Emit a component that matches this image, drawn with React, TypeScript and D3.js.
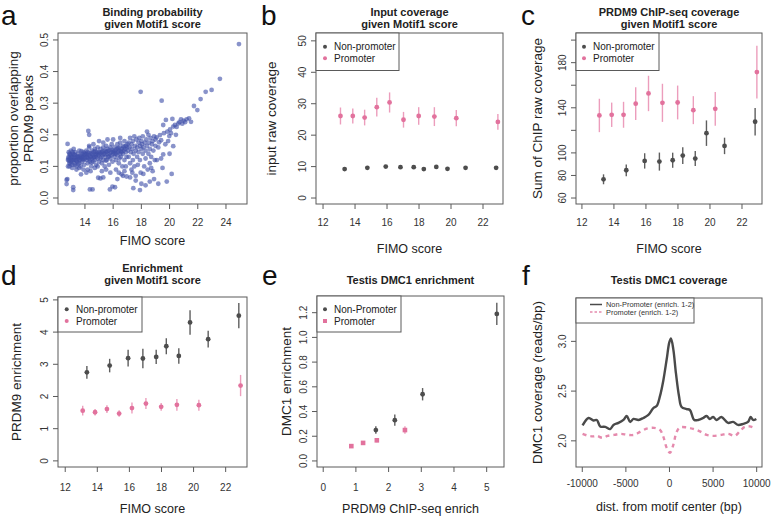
import React from "react";
import * as d3 from "d3";

// ---------- Panel a: binding probability scatter ----------
const bindingPoints: [number, number][] = [
  [12.8,0.12],[12.85,0.13],[12.9,0.11],[12.9,0.14],[12.95,0.125],[13.0,0.115],[13.0,0.135],[13.05,0.12],[13.1,0.13],[13.1,0.105],
  [13.15,0.14],[13.2,0.12],[13.2,0.125],[13.25,0.11],[13.3,0.135],[13.3,0.145],[13.35,0.12],[13.4,0.13],[13.4,0.1],[13.45,0.115],
  [13.5,0.14],[13.5,0.125],[13.55,0.13],[13.6,0.11],[13.6,0.15],[13.65,0.12],[13.7,0.135],[13.7,0.1],[13.75,0.125],[13.8,0.14],
  [13.8,0.115],[13.85,0.13],[13.9,0.145],[13.9,0.12],[13.95,0.105],[14.0,0.135],[14.0,0.125],
  [12.8,0.1],[12.85,0.145],[13.0,0.15],[13.1,0.095],[13.2,0.155],[13.4,0.09],[13.6,0.095],[13.9,0.09],[12.9,0.1],[13.3,0.105],
  [12.82,0.125],[12.88,0.118],[12.95,0.138],[13.02,0.128],[13.12,0.118],[13.22,0.138],[13.28,0.128],[13.38,0.118],[13.48,0.132],[13.58,0.122],
  [13.68,0.128],[13.78,0.132],[13.88,0.125],[13.98,0.14],[13.12,0.145],[13.52,0.108],[13.75,0.148],[12.98,0.108],
  [14.05,0.14],[14.1,0.12],[14.1,0.15],[14.15,0.13],[14.2,0.11],[14.2,0.145],[14.25,0.125],[14.3,0.135],[14.3,0.16],[14.35,0.115],
  [14.4,0.14],[14.4,0.13],[14.45,0.1],[14.5,0.15],[14.5,0.125],[14.55,0.135],[14.6,0.115],[14.6,0.145],[14.65,0.13],[14.7,0.155],
  [14.7,0.12],[14.75,0.14],[14.8,0.105],[14.8,0.13],[14.85,0.145],[14.9,0.125],[14.9,0.16],[14.95,0.135],[15.0,0.115],[15.0,0.145],
  [14.2,0.09],[14.4,0.085],[14.7,0.095],[14.9,0.1],[14.3,0.165],[14.6,0.17],
  [14.12,0.138],[14.28,0.142],[14.38,0.122],[14.52,0.14],[14.62,0.128],[14.78,0.135],[14.88,0.14],[14.18,0.128],[14.48,0.112],[14.72,0.148],
  [15.05,0.14],[15.1,0.125],[15.1,0.155],[15.15,0.13],[15.2,0.11],[15.2,0.145],[15.25,0.135],[15.3,0.16],[15.3,0.12],[15.35,0.14],
  [15.4,0.15],[15.4,0.1],[15.45,0.13],[15.5,0.145],[15.5,0.165],[15.55,0.12],[15.6,0.14],[15.6,0.155],[15.65,0.13],[15.7,0.105],
  [15.7,0.15],[15.75,0.14],[15.8,0.16],[15.8,0.125],[15.85,0.145],[15.9,0.135],[15.9,0.17],[15.95,0.115],[16.0,0.15],[16.0,0.14],
  [15.2,0.085],[15.5,0.09],[15.8,0.08],[15.3,0.175],[15.6,0.185],[15.0,0.18],
  [15.12,0.142],[15.28,0.148],[15.42,0.138],[15.58,0.148],[15.72,0.132],[15.88,0.152],[15.48,0.118],
  [16.05,0.145],[16.1,0.13],[16.1,0.16],[16.15,0.15],[16.2,0.12],[16.2,0.14],[16.25,0.155],[16.3,0.135],[16.3,0.17],[16.35,0.145],
  [16.4,0.11],[16.4,0.15],[16.45,0.16],[16.5,0.14],[16.5,0.175],[16.55,0.13],[16.6,0.155],[16.6,0.145],[16.65,0.1],[16.7,0.165],
  [16.7,0.14],[16.75,0.15],[16.8,0.12],[16.8,0.18],[16.85,0.155],[16.9,0.145],[16.9,0.165],[16.95,0.13],[17.0,0.16],[17.0,0.17],
  [16.2,0.09],[16.4,0.08],[16.6,0.075],[16.8,0.085],[16.95,0.068],[16.13,0.034],[16.3,0.06],[16.5,0.19],[16.0,0.185],[16.7,0.07],[16.9,0.1],
  [16.15,0.142],[16.35,0.158],[16.55,0.148],[16.75,0.16],[16.45,0.125],
  [17.05,0.15],[17.1,0.175],[17.1,0.13],[17.15,0.16],[17.2,0.19],[17.2,0.11],[17.25,0.145],[17.3,0.17],[17.3,0.09],[17.35,0.155],
  [17.4,0.18],[17.4,0.12],[17.45,0.14],[17.5,0.195],[17.5,0.1],[17.55,0.165],[17.6,0.15],[17.6,0.07],[17.65,0.185],[17.7,0.13],
  [17.7,0.16],[17.75,0.105],[17.8,0.175],[17.8,0.145],[17.85,0.19],[17.9,0.12],[17.9,0.165],[17.95,0.08],[18.0,0.155],[18.0,0.18],
  [17.36,0.08],[17.43,0.031],[17.9,0.025],[18.0,0.045],[17.2,0.065],[17.6,0.055],
  [18.05,0.17],[18.1,0.14],[18.1,0.195],[18.15,0.16],[18.2,0.1],[18.25,0.175],[18.3,0.15],[18.3,0.125],[18.35,0.185],[18.4,0.165],
  [18.45,0.09],[18.5,0.2],[18.5,0.14],[18.55,0.175],[18.6,0.11],[18.6,0.155],[18.65,0.19],[18.7,0.13],[18.75,0.17],[18.8,0.085],
  [18.8,0.18],[18.85,0.15],[18.9,0.195],[18.95,0.12],[19.0,0.165],[19.0,0.185],
  [18.14,0.076],[18.6,0.052],[18.3,0.04],[18.9,0.06],[18.4,0.21],[17.95,0.336],[18.7,0.095],
  [19.08,0.192],[19.1,0.12],[19.2,0.045],[19.26,0.176],[19.32,0.199],[19.4,0.183],[19.4,0.125],[19.44,0.308],[19.55,0.231],[19.55,0.138],
  [19.6,0.205],[19.74,0.247],[19.8,0.052],[19.84,0.21],[19.98,0.196],[20.0,0.14],[19.2,0.16],[19.7,0.17],[19.5,0.095],[19.9,0.18],
  [20.03,0.217],[20.15,0.076],[20.26,0.226],[20.26,0.164],[20.38,0.231],[20.62,0.236],[20.81,0.249],[21.0,0.245],[21.21,0.249],[21.38,0.252],
  [21.52,0.241],[20.5,0.225],[20.7,0.24],[20.1,0.205],[20.9,0.235],[21.1,0.24],[20.45,0.2],[20.2,0.25],
  [21.73,0.291],[21.97,0.278],[22.2,0.313],[22.56,0.336],[22.98,0.342],[23.57,0.377],[24.92,0.487],
  [12.77,0.171],[12.7,0.057],[12.75,0.06],[12.7,0.044],[13.17,0.034],[13.17,0.025],[13.72,0.075],[14.35,0.027],[14.54,0.027],[14.94,0.064],
  [15.1,0.062],[15.77,0.027],[15.95,0.036],[14.24,0.212],[14.3,0.2],[15.3,0.065],[14.1,0.08],
];

// ---------- Panels b-d: FIMO score bins ----------
const fimoNonPromoter = [13.35, 14.77, 15.92, 16.84, 17.67, 18.3, 19.08, 19.78, 20.91, 22.82];
const fimoPromoter = [13.09, 13.86, 14.6, 15.36, 16.16, 17.03, 17.98, 18.96, 20.33, 22.93];

const inputNonPromoter = [9.2, 9.6, 10.0, 9.8, 9.8, 9.2, 9.9, 9.3, 9.6, 9.6];
const inputNonPromoterErr = [0.4, 0.4, 0.4, 0.4, 0.4, 0.4, 0.4, 0.4, 0.4, 0.4];
const inputPromoter = [26.1, 26.1, 25.6, 28.9, 30.4, 24.9, 26.1, 25.9, 25.4, 24.2];
const inputPromoterErr = [2.7, 2.4, 2.5, 3.0, 3.2, 2.5, 2.8, 3.0, 2.6, 2.5];

const chipNonPromoter = [76.6, 84.6, 92.9, 92.3, 93.5, 97.6, 95.0, 117.5, 106.2, 127.6];
const chipNonPromoterErr = [4.4, 5.2, 6.8, 8.0, 6.7, 7.4, 6.7, 11.3, 7.3, 12.1];
const chipPromoter = [133.2, 133.8, 133.8, 143.6, 152.7, 144.4, 144.7, 137.9, 139.1, 171.7];
const chipPromoterErr = [14.8, 10.8, 11.5, 14.5, 15.7, 16.9, 15.0, 12.4, 15.0, 23.4];

const enrichNonPromoter = [2.75, 2.96, 3.19, 3.18, 3.23, 3.56, 3.26, 4.3, 3.78, 4.51];
const enrichNonPromoterErr = [0.2, 0.21, 0.26, 0.3, 0.22, 0.25, 0.24, 0.38, 0.26, 0.39];
const enrichPromoter = [1.56, 1.51, 1.61, 1.47, 1.64, 1.78, 1.68, 1.74, 1.73, 2.34];
const enrichPromoterErr = [0.15, 0.1, 0.12, 0.1, 0.17, 0.17, 0.12, 0.18, 0.17, 0.33];

// ---------- Panel e ----------
const chipEnrichNonPromoter = [1.61, 2.19, 3.04, 5.31];
const dmc1NonPromoter = [0.25, 0.33, 0.54, 1.19];
const dmc1NonPromoterErr = [0.03, 0.045, 0.05, 0.09];
const chipEnrichPromoter = [0.86, 1.22, 1.64, 2.5];
const dmc1Promoter = [0.12, 0.146, 0.167, 0.25];
const dmc1PromoterErr = [0.01, 0.012, 0.015, 0.03];

// ---------- Panel f ----------
const distNonPromoter = [-9966,-9280,-8710,-8330,-7940,-7370,-6800,-6420,-5850,-5280,-4900,-4510,-4130,-3560,-2990,-2420,-1850,-1470,-1090,-700,-320,-20,170,440,740,1090,1390,1960,2340,2840,3290,3860,4250,4630,5010,5390,5960,6720,7290,7860,8440,9010,9310,9580,9960];
const covNonPromoter = [2.155,2.23,2.205,2.21,2.145,2.14,2.118,2.16,2.18,2.21,2.25,2.19,2.22,2.21,2.23,2.26,2.33,2.35,2.45,2.61,2.82,2.99,3.03,2.92,2.68,2.45,2.34,2.32,2.31,2.21,2.21,2.23,2.25,2.22,2.24,2.21,2.24,2.18,2.19,2.16,2.17,2.19,2.24,2.21,2.22];
const distPromoter = [-9966,-9280,-8710,-8330,-7660,-7090,-6330,-5570,-4800,-4040,-3280,-2520,-1760,-1090,-700,-320,60,440,820,1200,1960,2720,3480,4250,5010,5960,6720,7480,8060,8630,9200,9960];
const covPromoter = [2.07,2.05,2.045,2.05,2.03,2.05,2.06,2.07,2.06,2.06,2.095,2.125,2.13,2.11,2.04,1.93,1.88,1.96,2.09,2.135,2.135,2.12,2.095,2.06,2.05,2.06,2.07,2.05,2.095,2.14,2.145,2.12];

const fimoTicks = [12, 14, 16, 18, 20, 22];

const FONT = "'Liberation Sans', Arial, Helvetica, sans-serif";
const GRAY_PT = "#4d4d4d";
const GRAY_ERR = "#5e5e5e";
const PINK_PT = "#e2729d";
const PINK_ERR = "#ec9dbc";
const BLUE = "#4150aa";
const BOX = "#5a5a5a";
const TXT = "#222";

type Box = { l: number; t: number; r: number; b: number };

type AxesProps = {
  box: Box;
  x: d3.ScaleLinear<number, number>;
  y: d3.ScaleLinear<number, number>;
  xTicks: number[];
  yTicks: number[];
  yLabelTicks?: number[];
  xFmt?: (v: number) => string;
  yFmt?: (v: number) => string;
  xTickLabelY: number;
  yTickLabelX: number;
  title: string[];
  titleY: number[];
  letter: string;
  letterX: number;
  letterY: number;
  xLabel: string;
  xLabelY: number;
  yLabel: string[];
  yLabelX: number[];
};

function Axes(p: AxesProps) {
  const xf = p.xFmt || ((v: number) => String(v));
  const yf = p.yFmt || ((v: number) => String(v));
  const yLab = p.yLabelTicks || p.yTicks;
  const cx = (p.box.l + p.box.r) / 2;
  const cy = (p.box.t + p.box.b) / 2;
  return (
    <g fontFamily={FONT}>
      <rect x={p.box.l} y={p.box.t} width={p.box.r - p.box.l} height={p.box.b - p.box.t} fill="none" stroke={BOX} strokeWidth={1} />
      {p.xTicks.map((v) => (
        <g key={"xt" + v}>
          <line x1={p.x(v)} x2={p.x(v)} y1={p.box.b} y2={p.box.b + 5} stroke={BOX} />
          <text x={p.x(v)} y={p.xTickLabelY} textAnchor="middle" fontSize={10} fill="#333">{xf(v)}</text>
        </g>
      ))}
      {p.yTicks.map((v) => (
        <g key={"yt" + v}>
          <line x1={p.box.l - 5} x2={p.box.l} y1={p.y(v)} y2={p.y(v)} stroke={BOX} />
          {yLab.includes(v) && (
            <text transform={`translate(${p.yTickLabelX},${p.y(v)}) rotate(-90)`} textAnchor="middle" dominantBaseline="central" fontSize={10} fill="#333">{yf(v)}</text>
          )}
        </g>
      ))}
      {p.title.map((t, i) => (
        <text key={"ti" + i} x={cx} y={p.titleY[i]} textAnchor="middle" fontSize={11} fontWeight="bold" fill={TXT}>{t}</text>
      ))}
      <text x={p.letterX} y={p.letterY} fontSize={28} fill="#111">{p.letter}</text>
      <text x={cx} y={p.xLabelY} textAnchor="middle" fontSize={12.5} fill={TXT}>{p.xLabel}</text>
      {p.yLabel.map((t, i) => (
        <text key={"yl" + i} transform={`translate(${p.yLabelX[i]},${cy}) rotate(-90)`} textAnchor="middle" dominantBaseline="central" fontSize={13.5} fill={TXT}>{t}</text>
      ))}
    </g>
  );
}

function ErrPoints(props: {
  xs: number[]; ys: number[]; errs: number[];
  x: d3.ScaleLinear<number, number>; y: d3.ScaleLinear<number, number>;
  pt: string; err: string; square?: boolean;
}) {
  const { xs, ys, errs, x, y } = props;
  return (
    <g>
      {xs.map((xv, i) => (
        <line key={"e" + i} x1={x(xv)} x2={x(xv)} y1={y(ys[i] - errs[i])} y2={y(ys[i] + errs[i])} stroke={props.err} strokeWidth={1.4} />
      ))}
      {xs.map((xv, i) =>
        props.square ? (
          <rect key={"p" + i} x={x(xv) - 2.3} y={y(ys[i]) - 2.3} width={4.6} height={4.6} fill={props.pt} />
        ) : (
          <circle key={"p" + i} cx={x(xv)} cy={y(ys[i])} r={2.4} fill={props.pt} />
        )
      )}
    </g>
  );
}

function Legend(props: { box: Box; dotX: number; textX: number; rows: number[]; labels: string[]; squareSecond?: boolean }) {
  const { box } = props;
  return (
    <g fontFamily={FONT}>
      <rect x={box.l} y={box.t} width={box.r - box.l} height={box.b - box.t} fill="white" stroke={BOX} strokeWidth={1} />
      <circle cx={props.dotX} cy={props.rows[0]} r={2} fill={GRAY_PT} />
      {props.squareSecond ? (
        <rect x={props.dotX - 2} y={props.rows[1] - 2} width={4} height={4} fill={PINK_PT} />
      ) : (
        <circle cx={props.dotX} cy={props.rows[1]} r={2} fill={PINK_PT} />
      )}
      <text x={props.textX} y={props.rows[0]} dominantBaseline="central" fontSize={10} fill={TXT}>{props.labels[0]}</text>
      <text x={props.textX} y={props.rows[1]} dominantBaseline="central" fontSize={10} fill={TXT}>{props.labels[1]}</text>
    </g>
  );
}

export default function App() {
  // Panel a
  const boxA: Box = { l: 58, t: 33, r: 247, b: 204 };
  const xA = d3.scaleLinear().domain([12.09, 25.49]).range([boxA.l, boxA.r]);
  const yA = d3.scaleLinear().domain([-0.019, 0.522]).range([boxA.b, boxA.t]);

  // Panel b
  const boxB: Box = { l: 316, t: 33, r: 503, b: 204 };
  const xB = d3.scaleLinear().domain([11.56, 23.25]).range([boxB.l, boxB.r]);
  const yB = d3.scaleLinear().domain([-1.9, 52.5]).range([boxB.b, boxB.t]);

  // Panel c
  const boxC: Box = { l: 576, t: 33, r: 762, b: 204 };
  const xC = d3.scaleLinear().domain([11.63, 23.25]).range([boxC.l, boxC.r]);
  const yC = d3.scaleLinear().domain([54.7, 206.3]).range([boxC.b, boxC.t]);

  // Panel d
  const boxD: Box = { l: 58, t: 297, r: 247, b: 467 };
  const xD = d3.scaleLinear().domain([11.55, 23.33]).range([boxD.l, boxD.r]);
  const yD = d3.scaleLinear().domain([-0.19, 5.09]).range([boxD.b, boxD.t]);

  // Panel e
  const boxE: Box = { l: 317, t: 296, r: 504, b: 467 };
  const xE = d3.scaleLinear().domain([-0.19, 5.53]).range([boxE.l, boxE.r]);
  const yE = d3.scaleLinear().domain([-0.049, 1.335]).range([boxE.b, boxE.t]);

  // Panel f
  const boxF: Box = { l: 576, t: 298, r: 762, b: 467 };
  const xF = d3.scaleLinear().domain([-10720, 10610]).range([boxF.l, boxF.r]);
  const yF = d3.scaleLinear().domain([1.737, 3.436]).range([boxF.b, boxF.t]);

  const lineNP = d3.line<number>().x((d, i) => xF(distNonPromoter[i])).y((d) => yF(d)).curve(d3.curveCatmullRom.alpha(0.5));
  const lineP = d3.line<number>().x((d, i) => xF(distPromoter[i])).y((d) => yF(d)).curve(d3.curveCatmullRom.alpha(0.5));

  const f1 = (v: number) => v.toFixed(1);

  return (
    <svg width={771} height={521} style={{ position: "absolute", left: 0, top: 0, background: "white" }}>
      <rect x={0} y={0} width={771} height={521} fill="white" />

      {/* a */}
      <g>
        {bindingPoints.map((d, i) => (
          <circle key={i} cx={xA(d[0])} cy={yA(d[1])} r={2.4} fill={BLUE} fillOpacity={0.62} />
        ))}
      </g>
      <Axes box={boxA} x={xA} y={yA} xTicks={[14, 16, 18, 20, 22, 24]} yTicks={[0, 0.1, 0.2, 0.3, 0.4, 0.5]} yFmt={f1}
        xTickLabelY={226} yTickLabelX={44} title={["Binding probability", "given Motif1 score"]} titleY={[16, 28]}
        letter="a" letterX={1} letterY={25} xLabel="FIMO score" xLabelY={245}
        yLabel={["proportion overlapping", "PRDM9 peaks"]} yLabelX={[13, 28]} />

      {/* b */}
      <ErrPoints xs={fimoNonPromoter} ys={inputNonPromoter} errs={inputNonPromoterErr} x={xB} y={yB} pt={GRAY_PT} err={GRAY_ERR} />
      <ErrPoints xs={fimoPromoter} ys={inputPromoter} errs={inputPromoterErr} x={xB} y={yB} pt={PINK_PT} err={PINK_ERR} />
      <Axes box={boxB} x={xB} y={yB} xTicks={fimoTicks} yTicks={[0, 10, 20, 30, 40, 50]}
        xTickLabelY={226} yTickLabelX={302} title={["Input coverage", "given Motif1 score"]} titleY={[16, 28]}
        letter="b" letterX={261} letterY={25} xLabel="FIMO score" xLabelY={253}
        yLabel={["input raw coverage"]} yLabelX={[271]} />
      <Legend box={{ l: 316, t: 33, r: 399, b: 70.5 }} dotX={325} textX={334} rows={[46.7, 58.3]} labels={["Non-promoter", "Promoter"]} />

      {/* c */}
      <ErrPoints xs={fimoNonPromoter} ys={chipNonPromoter} errs={chipNonPromoterErr} x={xC} y={yC} pt={GRAY_PT} err={GRAY_ERR} />
      <ErrPoints xs={fimoPromoter} ys={chipPromoter} errs={chipPromoterErr} x={xC} y={yC} pt={PINK_PT} err={PINK_ERR} />
      <Axes box={boxC} x={xC} y={yC} xTicks={fimoTicks} yTicks={[60, 80, 100, 120, 140, 160, 180, 200]} yLabelTicks={[60, 80, 100, 140, 180]}
        xTickLabelY={226} yTickLabelX={562} title={["PRDM9 ChIP-seq coverage", "given Motif1 score"]} titleY={[16, 28]}
        letter="c" letterX={521} letterY={25} xLabel="FIMO score" xLabelY={253}
        yLabel={["Sum of ChIP raw coverage"]} yLabelX={[537]} />
      <Legend box={{ l: 576, t: 33, r: 659, b: 70.5 }} dotX={584} textX={593} rows={[46.7, 58.3]} labels={["Non-promoter", "Promoter"]} />

      {/* d */}
      <ErrPoints xs={fimoNonPromoter} ys={enrichNonPromoter} errs={enrichNonPromoterErr} x={xD} y={yD} pt={GRAY_PT} err={GRAY_ERR} />
      <ErrPoints xs={fimoPromoter} ys={enrichPromoter} errs={enrichPromoterErr} x={xD} y={yD} pt={PINK_PT} err={PINK_ERR} />
      <Axes box={boxD} x={xD} y={yD} xTicks={fimoTicks} yTicks={[0, 1, 2, 3, 4, 5]}
        xTickLabelY={491} yTickLabelX={44} title={["Enrichment", "given Motif1 score"]} titleY={[272, 284]}
        letter="d" letterX={1} letterY={285} xLabel="FIMO score" xLabelY={513}
        yLabel={["PRDM9 enrichment"]} yLabelX={[16]} />
      <Legend box={{ l: 58, t: 297, r: 142, b: 332 }} dotX={66.7} textX={76} rows={[309.3, 321]} labels={["Non-promoter", "Promoter"]} />

      {/* e */}
      <ErrPoints xs={chipEnrichNonPromoter} ys={dmc1NonPromoter} errs={dmc1NonPromoterErr} x={xE} y={yE} pt={GRAY_PT} err={GRAY_ERR} />
      <ErrPoints xs={chipEnrichPromoter} ys={dmc1Promoter} errs={dmc1PromoterErr} x={xE} y={yE} pt={PINK_PT} err={PINK_ERR} square />
      <Axes box={boxE} x={xE} y={yE} xTicks={[0, 1, 2, 3, 4, 5]} yTicks={[0, 0.2, 0.4, 0.6, 0.8, 1.0, 1.2]} yFmt={f1}
        xTickLabelY={491} yTickLabelX={303} title={["Testis DMC1 enrichment"]} titleY={[284]}
        letter="e" letterX={262} letterY={285} xLabel="PRDM9 ChIP-seq enrich" xLabelY={513}
        yLabel={["DMC1 enrichment"]} yLabelX={[286]} />
      <Legend box={{ l: 317, t: 296, r: 401, b: 332 }} dotX={325} textX={334} rows={[309.3, 321]} labels={["Non-Promoter", "Promoter"]} squareSecond />

      {/* f */}
      <path d={lineNP(covNonPromoter) || ""} fill="none" stroke="#4a4a4a" strokeWidth={2.4} />
      <path d={lineP(covPromoter) || ""} fill="none" stroke="#e58aad" strokeWidth={2.4} strokeDasharray="4,4" />
      <Axes box={boxF} x={xF} y={yF} xTicks={[-10000, -5000, 0, 5000, 10000]} yTicks={[2.0, 2.5, 3.0]} yFmt={f1}
        xTickLabelY={487} yTickLabelX={562} title={["Testis DMC1 coverage"]} titleY={[284]}
        letter="f" letterX={522} letterY={285} xLabel="dist. from motif center (bp)" xLabelY={511}
        yLabel={["DMC1 coverage (reads/bp)"]} yLabelX={[537]} />
      <g fontFamily={FONT}>
        <rect x={576} y={298} width={118} height={25} fill="white" stroke={BOX} strokeWidth={1} />
        <line x1={590} x2={602} y1={304.5} y2={304.5} stroke="#4a4a4a" strokeWidth={1.5} />
        <line x1={590} x2={602} y1={312} y2={312} stroke="#e58aad" strokeWidth={1.5} strokeDasharray="2.5,2" />
        <text x={606} y={304.5} dominantBaseline="central" fontSize={7.4} fill="#333">Non-Promoter (enrich. 1-2)</text>
        <text x={606} y={312} dominantBaseline="central" fontSize={7.4} fill="#333">Promoter (enrich. 1-2)</text>
      </g>
    </svg>
  );
}
